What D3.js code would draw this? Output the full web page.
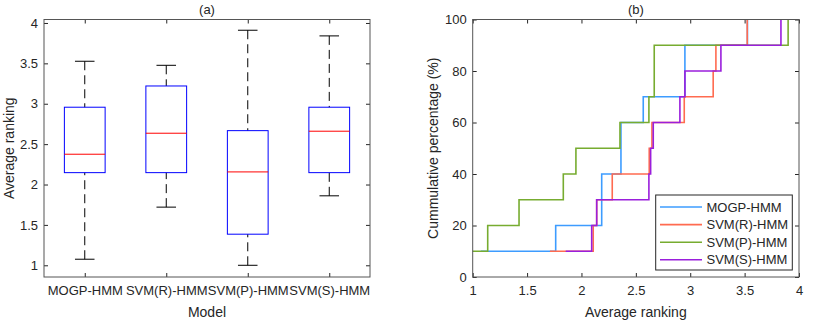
<!DOCTYPE html>
<html>
<head>
<meta charset="utf-8">
<script src="https://cdn.jsdelivr.net/npm/d3@7"></script>
<style>
  body { margin: 0; background: #fff; }
  svg { font-family: "Liberation Sans", Arial, sans-serif; }
  .tick text { fill: #262626; font-size: 13px; }
  .tick line { stroke: #262626; }
  .lbl { fill: #262626; font-size: 14px; }
</style>
</head>
<body>
<div id="draw-space"></div>
<script>
// (a) box plot summary per model
const models = ['MOGP-HMM', 'SVM(R)-HMM', 'SVM(P)-HMM', 'SVM(S)-HMM'];
const whiskerLow = [1.075, 1.72, 1.0, 1.86];
const quart1 = [2.147, 2.147, 1.385, 2.147];
const medians = [2.375, 2.635, 2.156, 2.66];
const quart3 = [2.957, 3.22, 2.667, 2.957];
const whiskerHigh = [3.526, 3.476, 3.91, 3.84];
const boxTicks = [1, 1.5, 2, 2.5, 3, 3.5, 4];

// (b) sorted average rankings (10 data sets each) for the cumulative plot
const rankMOGP = [1.075, 1.763, 2.186, 2.186, 2.363, 2.363, 2.568, 2.951, 2.951, 3.526];
const rankSVMR = [1.71, 2.108, 2.14, 2.283, 2.623, 2.648, 2.945, 3.211, 3.236, 3.524];
const rankSVMP = [1.0, 1.138, 1.426, 1.833, 1.949, 2.354, 2.62, 2.669, 2.669, 3.9];
const rankSVMS = [1.855, 2.094, 2.14, 2.62, 2.636, 2.66, 2.905, 2.951, 3.282, 3.834];
const seriesColors = ['#3d9cff', '#ff6b50', '#77ac30', '#9a1fdc'];
const xTicksB = [1, 1.5, 2, 2.5, 3, 3.5, 4];
const yTicksB = [0, 20, 40, 60, 80, 100];

const svg = d3.select('#draw-space').append('svg')
              .attr('width', 830).attr('height', 323);

const TICK = 4;
const plotTop = 19.5, plotBottom = 277;

// ---------- panel (a) ----------
const ax = { l: 44, r: 370 };
const xA = d3.scalePoint().domain(models).range([ax.l, ax.r]).padding(0.5);
const yA = d3.scaleLinear().domain([0.855, 4.043]).range([plotBottom, plotTop]);
const step = xA.step();

const gA = svg.append('g');

gA.append('g').attr('transform', `translate(0,${plotBottom})`)
  .call(d3.axisBottom(xA).tickSize(-TICK).tickPadding(9))
  .call(g => g.select('.domain').remove());
gA.append('g').attr('transform', `translate(0,${plotTop})`)
  .call(d3.axisTop(xA).tickSize(-TICK).tickFormat(''))
  .call(g => g.select('.domain').remove());
gA.append('g').attr('transform', `translate(${ax.l},0)`)
  .call(d3.axisLeft(yA).tickValues(boxTicks).tickSize(-TICK).tickPadding(6).tickFormat(d3.format('')))
  .call(g => g.select('.domain').remove());
gA.append('g').attr('transform', `translate(${ax.r},0)`)
  .call(d3.axisRight(yA).tickValues(boxTicks).tickSize(-TICK).tickFormat(''))
  .call(g => g.select('.domain').remove());

gA.append('rect')
  .attr('x', ax.l).attr('y', plotTop)
  .attr('width', ax.r - ax.l).attr('height', plotBottom - plotTop)
  .attr('fill', 'none').attr('stroke', '#555');

const boxes = gA.selectAll('.box').data(models).enter()
                .append('g').attr('class', 'box');
const halfW = step * 0.25, capW = step * 0.12;

// whiskers
boxes.append('line')
     .attr('x1', d => xA(d)).attr('x2', d => xA(d))
     .attr('y1', (d, i) => yA(whiskerHigh[i])).attr('y2', (d, i) => yA(quart3[i]))
     .attr('stroke', '#000').attr('stroke-dasharray', '9,5');
boxes.append('line')
     .attr('x1', d => xA(d)).attr('x2', d => xA(d))
     .attr('y1', (d, i) => yA(whiskerLow[i])).attr('y2', (d, i) => yA(quart1[i]))
     .attr('stroke', '#000').attr('stroke-dasharray', '9,5');
boxes.append('line')
     .attr('x1', d => xA(d) - capW).attr('x2', d => xA(d) + capW)
     .attr('y1', (d, i) => yA(whiskerHigh[i])).attr('y2', (d, i) => yA(whiskerHigh[i]))
     .attr('stroke', '#000');
boxes.append('line')
     .attr('x1', d => xA(d) - capW).attr('x2', d => xA(d) + capW)
     .attr('y1', (d, i) => yA(whiskerLow[i])).attr('y2', (d, i) => yA(whiskerLow[i]))
     .attr('stroke', '#000');
boxes.append('rect')
     .attr('x', d => xA(d) - halfW).attr('width', 2 * halfW)
     .attr('y', (d, i) => yA(quart3[i]))
     .attr('height', (d, i) => yA(quart1[i]) - yA(quart3[i]))
     .attr('fill', 'none').attr('stroke', '#0000ff');
boxes.append('line')
     .attr('x1', d => xA(d) - halfW).attr('x2', d => xA(d) + halfW)
     .attr('y1', (d, i) => yA(medians[i])).attr('y2', (d, i) => yA(medians[i]))
     .attr('stroke', '#ff0000');

gA.append('text').attr('class', 'lbl').attr('x', (ax.l + ax.r) / 2).attr('y', 14)
  .attr('text-anchor', 'middle').style('font-size', '13px').text('(a)');
gA.append('text').attr('class', 'lbl').attr('x', (ax.l + ax.r) / 2).attr('y', 317)
  .attr('text-anchor', 'middle').text('Model');
gA.append('text').attr('class', 'lbl')
  .attr('transform', `translate(14,${(plotTop + plotBottom) / 2}) rotate(-90)`)
  .attr('text-anchor', 'middle').text('Average ranking');

// ---------- panel (b) ----------
const bx = { l: 472.7, r: 799 };
const xB = d3.scaleLinear().domain([1, 4]).range([bx.l, bx.r]);
const yB = d3.scaleLinear().domain([0, 100]).range([plotBottom, plotTop]);
const gB = svg.append('g');

gB.append('g').attr('transform', `translate(0,${plotBottom})`)
  .call(d3.axisBottom(xB).tickValues(xTicksB).tickSize(-TICK).tickPadding(9).tickFormat(d3.format('')))
  .call(g => g.select('.domain').remove());
gB.append('g').attr('transform', `translate(0,${plotTop})`)
  .call(d3.axisTop(xB).tickValues(xTicksB).tickSize(-TICK).tickFormat(''))
  .call(g => g.select('.domain').remove());
gB.append('g').attr('transform', `translate(${bx.l},0)`)
  .call(d3.axisLeft(yB).tickValues(yTicksB).tickSize(-TICK).tickPadding(6))
  .call(g => g.select('.domain').remove());
gB.append('g').attr('transform', `translate(${bx.r},0)`)
  .call(d3.axisRight(yB).tickValues(yTicksB).tickSize(-TICK).tickFormat(''))
  .call(g => g.select('.domain').remove());

const series = [rankMOGP, rankSVMR, rankSVMP, rankSVMS];
const stair = d3.line()
                .x(d => xB(d[0]))
                .y(d => yB(d[1]))
                .curve(d3.curveStepAfter);

gB.selectAll('.ecdf').data(series).enter()
  .append('path')
  .attr('class', 'ecdf')
  .attr('d', vals => stair(vals.map((v, i) => [v, (i + 1) * 10])))
  .attr('fill', 'none')
  .attr('stroke', (d, i) => seriesColors[i])
  .attr('stroke-width', 1.6);

gB.append('rect')
  .attr('x', bx.l).attr('y', plotTop)
  .attr('width', bx.r - bx.l).attr('height', plotBottom - plotTop)
  .attr('fill', 'none').attr('stroke', '#555');

// legend
const legend = gB.append('g');
legend.append('rect')
      .attr('x', 655.7).attr('y', 195)
      .attr('width', 136.6).attr('height', 75)
      .attr('fill', '#fff').attr('stroke', '#262626');
const items = legend.selectAll('.leg').data(models).enter()
                    .append('g').attr('class', 'leg')
                    .attr('transform', (d, i) => `translate(0,${207 + i * 17.6})`);
items.append('line')
     .attr('x1', 660).attr('x2', 702).attr('y1', 0).attr('y2', 0)
     .attr('stroke', (d, i) => seriesColors[i]).attr('stroke-width', 1.6);
items.append('text')
     .attr('x', 706.5).attr('y', 4.6)
     .style('font-size', '13px').attr('fill', '#262626')
     .text(d => d);

gB.append('text').attr('class', 'lbl').attr('x', (bx.l + bx.r) / 2).attr('y', 14)
  .attr('text-anchor', 'middle').style('font-size', '13px').text('(b)');
gB.append('text').attr('class', 'lbl').attr('x', (bx.l + bx.r) / 2).attr('y', 317)
  .attr('text-anchor', 'middle').text('Average ranking');
gB.append('text').attr('class', 'lbl')
  .attr('transform', `translate(437.5,${(plotTop + plotBottom) / 2}) rotate(-90)`)
  .attr('text-anchor', 'middle').text('Cummulative percentage (%)');
</script>
</body>
</html>
